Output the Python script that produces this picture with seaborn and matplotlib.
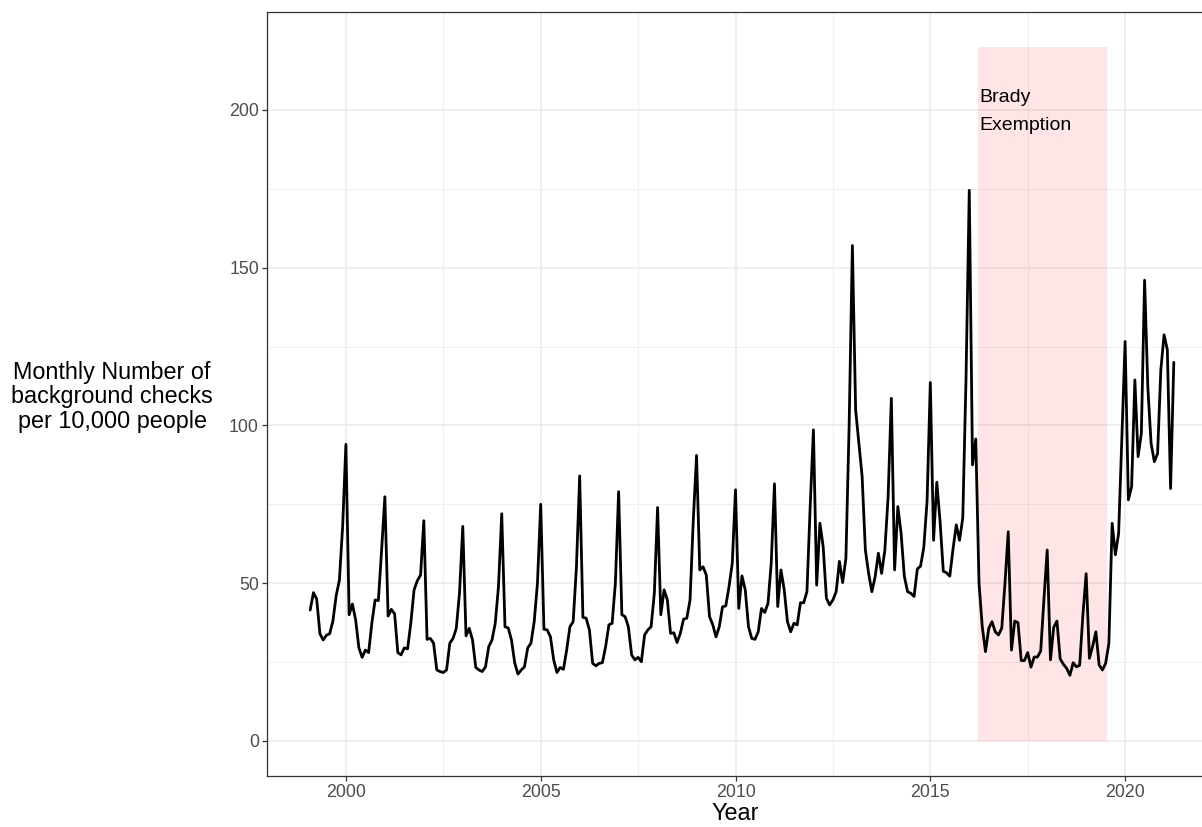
import numpy as np
import pandas as pd
import matplotlib
matplotlib.use("Agg")
import matplotlib.pyplot as plt
from matplotlib.ticker import FixedLocator
import seaborn as sns

# ---------------- data (monthly, starting Jan 1999) ----------------
start_year = 1999
checks_1999_2004 = [
    41.5, 47.0, 45.0, 34.0, 32.0, 33.5, 34.0, 38.0, 46.0, 51.0, 68.0, 94.0,   # 1999
    40.0, 43.4, 38.4, 29.5, 26.5, 28.8, 28.0, 37.4, 44.7, 44.5, 60.5, 77.4,   # 2000
    39.6, 41.7, 40.3, 28.0, 27.3, 29.5, 29.2, 37.4, 47.9, 50.8, 52.6, 69.8,   # 2001
    32.2, 32.5, 31.0, 22.5, 22.0, 21.7, 22.5, 31.0, 32.5, 35.7, 47.0, 68.0,   # 2002
    33.3, 35.7, 32.0, 23.3, 22.5, 22.0, 23.5, 29.9, 32.0, 37.3, 49.0, 72.0,   # 2003
    36.2, 35.8, 32.0, 24.7, 21.2, 22.5, 23.5, 29.5, 31.0, 37.8, 50.0, 75.0,   # 2004
]
checks_2005_2010 = [
    35.4, 35.2, 33.0, 25.7, 21.7, 23.3, 22.7, 28.8, 36.2, 37.8, 55.0, 84.0,   # 2005
    39.2, 38.9, 35.2, 24.6, 23.8, 24.6, 24.8, 29.9, 36.8, 37.3, 50.0, 79.0,   # 2006
    40.0, 39.4, 36.2, 27.3, 25.7, 26.5, 25.1, 33.6, 35.2, 36.2, 46.8, 74.0,   # 2007
    40.0, 47.9, 44.7, 34.1, 34.3, 31.2, 34.1, 38.6, 38.9, 44.7, 70.0, 90.5,   # 2008
    54.2, 55.2, 52.6, 39.4, 36.8, 33.0, 36.2, 42.5, 42.8, 48.9, 56.3, 79.6,   # 2009
    42.0, 52.3, 47.9, 36.2, 32.5, 32.2, 34.6, 42.0, 40.7, 43.6, 56.3, 81.5,   # 2010
]
checks_2011_2016 = [
    42.6, 54.2, 47.9, 37.8, 34.6, 37.3, 36.8, 43.8, 43.8, 47.3, 74.3, 98.6,   # 2011
    49.4, 69.0, 61.6, 45.2, 43.1, 44.7, 47.3, 56.9, 50.2, 57.9, 100.0, 157.0, # 2012
    104.9, 94.3, 83.8, 60.5, 53.1, 47.3, 52.0, 59.5, 53.1, 60.5, 77.4, 108.6, # 2013
    54.2, 74.3, 65.8, 52.2, 47.3, 46.8, 45.8, 54.5, 55.4, 61.4, 76.0, 113.6,  # 2014
    63.6, 82.0, 69.6, 53.8, 53.3, 52.2, 60.9, 68.5, 63.6, 70.7, 115.0, 174.5, # 2015
    87.5, 95.7, 50.0, 36.2, 28.3, 35.7, 37.8, 34.6, 33.6, 35.7, 50.0, 66.3,   # 2016
]
checks_2017_2021 = [
    28.8, 38.0, 37.5, 25.5, 25.5, 28.0, 23.4, 26.6, 26.6, 28.5, 45.0, 60.5,   # 2017
    25.7, 36.0, 38.0, 26.0, 24.3, 23.0, 20.8, 24.8, 23.5, 24.0, 40.0, 53.0,   # 2018
    26.2, 30.0, 34.6, 24.1, 22.5, 24.6, 31.0, 69.0, 59.0, 65.8, 96.0, 126.6,  # 2019
    76.4, 80.6, 114.4, 90.1, 97.5, 146.0, 112.0, 94.3, 88.5, 91.1, 117.6, 128.7,  # 2020
    124.0, 80.0, 120.0,                                                        # 2021
]
checks = checks_1999_2004 + checks_2005_2010 + checks_2011_2016 + checks_2017_2021

brady_start = 2016.23
brady_end = 2019.53
brady_top = 220
brady_label = "Brady\nExemption"

x_ticks = [2000, 2005, 2010, 2015, 2020]
x_minor = [2002.5, 2007.5, 2012.5, 2017.5]
y_ticks = [0, 50, 100, 150, 200]
y_minor = [25, 75, 125, 175]

x_title = "Year"
y_title = "Monthly Number of\nbackground checks\nper 10,000 people"

# ---------------- frame ----------------
n = len(checks)
month_idx = np.arange(1, n + 1)
df = pd.DataFrame({"Year": start_year + month_idx / 12.0, "checks": checks})

sns.set_theme(style="white")
plt.rcParams["font.family"] = ["Liberation Sans", "DejaVu Sans"]

W, H = 1202, 827
fig = plt.figure(figsize=(W / 100, H / 100), dpi=100)
fig.patch.set_facecolor("white")

left_px, right_px, top_px, bottom_px = 267, 1217, 12, 775.7
ax = fig.add_axes([left_px / W, 1 - bottom_px / H,
                   (right_px - left_px) / W, (bottom_px - top_px) / H])
ax.set_facecolor("white")

# data ranges with ggplot-like 5% expansion
x0, x1 = df["Year"].min(), df["Year"].max()
xr = x1 - x0
ax.set_xlim(x0 - 0.05 * xr, x1 + 0.05 * xr)
ax.set_ylim(0 - 0.05 * brady_top, brady_top * 1.05)

# grid
ax.xaxis.set_major_locator(FixedLocator(x_ticks))
ax.xaxis.set_minor_locator(FixedLocator(x_minor))
ax.yaxis.set_major_locator(FixedLocator(y_ticks))
ax.yaxis.set_minor_locator(FixedLocator(y_minor))
ax.set_axisbelow(True)
ax.grid(which="major", color="#EBEBEB", linewidth=1.1)
ax.grid(which="minor", color="#EBEBEB", linewidth=0.55)

# shaded Brady exemption region
ax.fill_between([brady_start, brady_end], 0, brady_top,
                color="red", alpha=0.1, linewidth=0, zorder=1)
ax.text(brady_start + 0.03, 199.5, brady_label, ha="left", va="center",
        fontsize=14, color="black", linespacing=1.85, zorder=3)

# main line
sns.lineplot(data=df, x="Year", y="checks", color="black",
             linewidth=2.0, ax=ax, zorder=4)

# ticks / spines
for s in ax.spines.values():
    s.set_color("#333333")
    s.set_linewidth(0.9)
ax.tick_params(axis="both", which="major", length=3.8, width=0.9,
               color="#333333", labelcolor="#4D4D4D", labelsize=12.8,
               direction="out", pad=2)
ax.tick_params(axis="both", which="minor", length=0)
ax.tick_params(axis="x", bottom=True)
ax.tick_params(axis="y", left=True)
ax.set_xticklabels([str(t) for t in x_ticks])
ax.set_yticklabels([str(t) for t in y_ticks])
ax.set_xlabel("")
ax.set_ylabel("")

# axis titles
fig.text(735 / W, 1 - 814 / H, x_title, ha="center", va="center",
         fontsize=16.8, color="black")
fig.text(112 / W, 1 - 397 / H, y_title, ha="center", va="center",
         multialignment="center", fontsize=16.8, color="black",
         linespacing=1.08)

fig.savefig("out.png", dpi=100)
